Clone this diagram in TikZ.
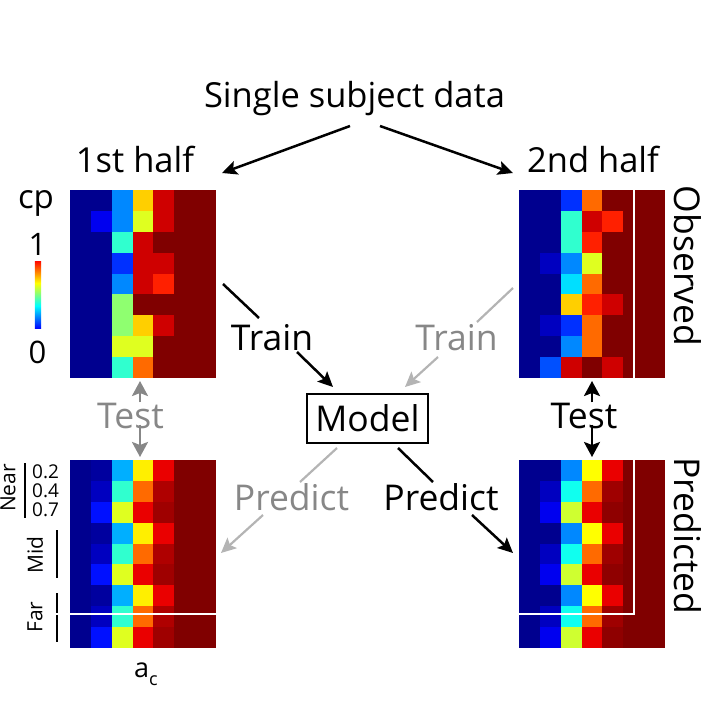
\documentclass[tikz,border=0pt]{standalone}
\usepackage{fontspec}
\setmainfont{Open Sans}
\usetikzlibrary{arrows.meta}

% jet colours of the cp maps
\definecolor{dkb}{HTML}{00008F}
\definecolor{b0}{HTML}{00009F}
\definecolor{b1}{HTML}{0000C0}
\definecolor{b2}{HTML}{0000EF}
\definecolor{bb}{HTML}{0010FF}
\definecolor{b3}{HTML}{0030FF}
\definecolor{b4}{HTML}{0050FF}
\definecolor{lb}{HTML}{0088FF}
\definecolor{sb}{HTML}{00AFFF}
\definecolor{cy}{HTML}{00DFFF}
\definecolor{cy2}{HTML}{10FFEF}
\definecolor{cg}{HTML}{30FFCF}
\definecolor{lg}{HTML}{8FFF70}
\definecolor{yg}{HTML}{DFFF20}
\definecolor{yg2}{HTML}{CFFF30}
\definecolor{ye}{HTML}{FFEF00}
\definecolor{yl}{HTML}{FFFF00}
\definecolor{yo}{HTML}{FFCF00}
\definecolor{or}{HTML}{FF6A00}
\definecolor{ro}{HTML}{FF2000}
\definecolor{re}{HTML}{EA0000}
\definecolor{rd}{HTML}{CF0000}
\definecolor{r2}{HTML}{AF0000}
\definecolor{r3}{HTML}{9F0000}
\definecolor{r4}{HTML}{8F0000}
\definecolor{dr}{HTML}{800000}
\definecolor{txtgray}{HTML}{878787}
\definecolor{lngray}{HTML}{B4B4B4}

\pgfdeclareverticalshading{jetbar}{17bp}{rgb(0bp)=(0,0,0.56); rgb(8bp)=(0,0,1); rgb(25bp)=(0,1,1); rgb(42bp)=(1,1,0); rgb(59bp)=(1,0,0); rgb(67bp)=(0.5,0,0)}

% one 9 x 7 map, #1,#2 = top left corner, #3 = rows of colours
\newcommand{\cpmap}[3]{%
  \foreach \rw [count=\i from 0] in {#3}{%
    \foreach \cl [count=\j from 0] in \rw{%
      \fill[\cl] ({#1+\j*146/7},{#2+\i*188/9}) rectangle ++(21.2,21.2);
    }}}

\tikzset{
  big/.style={font=\fontsize{34.5}{40}\selectfont, inner sep=0pt, anchor=base},
  lbl/.style={font=\fontsize{35.5}{42}\selectfont, inner sep=0pt, anchor=base},
  small/.style={font=\fontsize{21}{25}\selectfont, inner sep=0pt},
  tick/.style={font=\fontsize{19}{22}\selectfont, inner sep=0pt, anchor=west},
  blk/.style={line width=2.5pt, -{Stealth[length=15pt,width=14pt,inset=3pt]}},
  blkline/.style={line width=2.5pt},
  gry/.style={lngray, line width=2.2pt, -{Stealth[length=15pt,width=14pt,inset=3pt]}},
  gryline/.style={lngray, line width=2.2pt},
  tst/.style={line width=2.6pt, -{Stealth[length=15pt,width=16pt,inset=3pt]}},
  cut/.style={white, line width=1.3pt}
}

\begin{document}
\begin{tikzpicture}[x=1pt,y=-1pt]
\useasboundingbox (0,0) rectangle (713,713);

% maps
\cpmap{70}{190}{{dkb,dkb,lb,yo,rd,dr,dr},{dkb,b2,lb,yg,rd,dr,dr},{dkb,dkb,cg,rd,dr,dr,dr},{dkb,dkb,b3,rd,rd,dr,dr},{dkb,dkb,lb,rd,ro,dr,dr},{dkb,dkb,lg,dr,dr,dr,dr},{dkb,dkb,lg,yo,rd,dr,dr},{dkb,dkb,yg,yg,dr,dr,dr},{dkb,dkb,cg,or,dr,dr,dr}}
\cpmap{519}{190}{{dkb,dkb,b3,or,dr,dr,dr},{dkb,dkb,cg,rd,ro,dr,dr},{dkb,dkb,cg,ro,dr,dr,dr},{dkb,b1,lb,yg,dr,dr,dr},{dkb,dkb,cy,or,dr,dr,dr},{dkb,dkb,yo,ro,rd,dr,dr},{dkb,b1,b3,or,dr,dr,dr},{dkb,dkb,lb,or,dr,dr,dr},{dkb,b4,rd,dr,rd,dr,dr}}
\cpmap{70}{460}{{dkb,b0,sb,ye,re,dr,dr},{dkb,b1,cg,or,r2,dr,dr},{dkb,bb,yg,re,r3,dr,dr},{dkb,b0,sb,ye,re,dr,dr},{dkb,b1,cg,or,r2,dr,dr},{dkb,bb,yg,re,r3,dr,dr},{dkb,b0,sb,ye,re,dr,dr},{dkb,b1,cg,or,r2,dr,dr},{dkb,bb,yg,re,r3,dr,dr}}
\cpmap{519}{460}{{dkb,dkb,lb,yl,re,dr,dr},{dkb,b1,cy2,or,r3,dr,dr},{dkb,b2,yg2,re,r4,dr,dr},{dkb,dkb,lb,yl,re,dr,dr},{dkb,b1,cy2,or,r3,dr,dr},{dkb,b2,yg2,re,r4,dr,dr},{dkb,dkb,lb,yl,re,dr,dr},{dkb,b1,cy2,or,r3,dr,dr},{dkb,b2,yg2,re,r4,dr,dr}}

% white cuts
\draw[cut] (634,190) -- (634,378.5);
\draw[cut] (634,460) -- (634,614) -- (519,614);
\draw[cut] (50,614) -- (216.5,614);

% colour bar
\shade[shading=jetbar] (29,261) rectangle (47,328);
\node[font=\fontsize{33}{38}\selectfont, inner sep=0pt, anchor=base] (cp) at (36,208) {cp};
\node[font=\fontsize{31}{36}\selectfont, inner sep=0pt, anchor=base] (one) at (37.5,255) {1};
\node[font=\fontsize{31}{36}\selectfont, inner sep=0pt, anchor=base] (zero) at (37.5,363) {0};

% titles
\node[big] (title) at (354.5,107) {Single subject data};
\node[big] (half1) at (135,172) {1st half};
\node[big] (half2) at (593,172) {2nd half};
\node[lbl, rotate=-90, anchor=center] (obs) at (688,266) {Observed};
\node[lbl, rotate=-90, anchor=center] (pred) at (688,536) {Predicted};

% model and steps
\node[draw, line width=1.3pt, minimum width=121pt, minimum height=49pt, inner sep=0pt,
  font=\fontsize{35.5}{42}\selectfont] (model) at (367.5,418.5) {Model};
\node[lbl] (trainA) at (272,350) {Train};
\node[lbl, txtgray] (trainB) at (456.5,350) {Train};
\node[lbl, txtgray] (testA) at (130.5,428) {Test};
\node[lbl] (testB) at (584,428) {Test};
\node[lbl, txtgray] (predA) at (291.5,510) {Predict};
\node[lbl] (predB) at (441,510) {Predict};

% distance labels
\node[small, rotate=90] (near) at (8,488) {Near};
\node[small, rotate=90] (mid) at (35,555) {Mid};
\node[small, rotate=90] (far) at (35,617) {Far};
\node[tick] (v2) at (32,472) {0.2};
\node[tick] (v4) at (32,491) {0.4};
\node[tick] (v7) at (32,510) {0.7};
\draw[line width=2pt] (25,463) -- (25,518);
\draw[line width=2pt] (57,530) -- (57,578);
\draw[line width=2pt] (57,593) -- (57,642);
\draw[cut] (50,614) -- (60,614);
\node[font=\fontsize{27}{30}\selectfont, anchor=base] (ac) at (146,677) {a\raisebox{-0.32em}{\fontsize{18}{20}\selectfont c}};

% connector ends
\coordinate (sd1) at (350,126);
\coordinate (h1in) at (222,173);
\coordinate (sd2) at (380,126);
\coordinate (h2in) at (513,173);
\coordinate (o1out) at (223,284);
\coordinate (trA1) at (259,318);
\coordinate (trA2) at (297,352);
\coordinate (mdA) at (333,387);
\coordinate (o2out) at (513,288);
\coordinate (trB1) at (477,322);
\coordinate (trB2) at (438,357);
\coordinate (mdB) at (405,387);
\coordinate (mdC) at (337,448);
\coordinate (prA1) at (300,482);
\coordinate (prA2) at (263,515);
\coordinate (p1in) at (221,553);
\coordinate (mdD) at (398,448);
\coordinate (prB1) at (433,482);
\coordinate (prB2) at (472,515);
\coordinate (p2in) at (513,553);
\coordinate (o1s) at (140,381);
\coordinate (p1n) at (140,457);
\coordinate (o2s) at (592,381);
\coordinate (p2n) at (592,457);

% connectors
\draw[blk] (sd1) -- (h1in);
\draw[blk] (sd2) -- (h2in);
\draw[blkline] (o1out) -- (trA1);
\draw[blk] (trA2) -- (mdA);
\draw[gryline] (o2out) -- (trB1);
\draw[gry] (trB2) -- (mdB);
\draw[gryline] (mdC) -- (prA1);
\draw[gry] (prA2) -- (p1in);
\draw[blkline] (mdD) -- (prB1);
\draw[blk] (prB2) -- (p2in);
\draw[tst, txtgray] ([xshift=9.5pt]testA.north) -- (o1s);
\draw[tst, txtgray] ([xshift=9.5pt,yshift=4pt]testA.south) -- (p1n);
\draw[tst] ([xshift=8pt]testB.north) -- (o2s);
\draw[tst] ([xshift=8pt,yshift=4pt]testB.south) -- (p2n);

\end{tikzpicture}
\end{document}
